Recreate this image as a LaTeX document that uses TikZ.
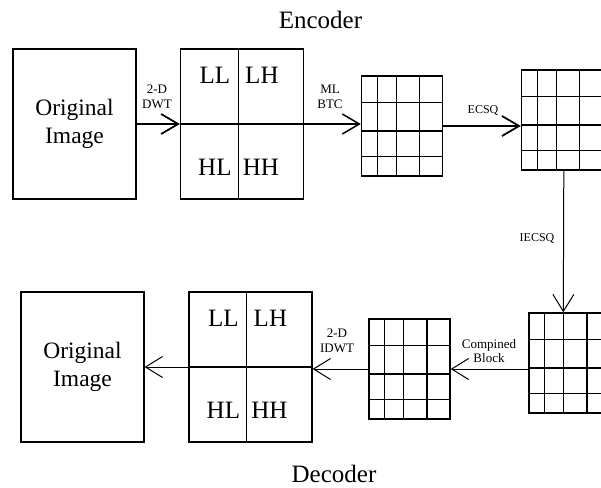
\documentclass[tikz,border=0pt]{standalone}
\usepackage{fontspec}
\setmainfont{Liberation Serif}
\usetikzlibrary{arrows.meta,positioning,calc}

\begin{document}
\begin{tikzpicture}[x=1pt, y=-1pt,
    imgbox/.style={draw, line width=1.2pt, minimum width=123pt, minimum height=150pt, inner sep=0pt, align=center, font=\fontsize{23.5}{28}\selectfont},
    gridbox/.style={draw, line width=1.4pt, minimum width=81pt, minimum height=100pt, inner sep=0pt},
    band/.style={font=\fontsize{25}{30}\selectfont, inner sep=0pt},
    lbl/.style={font=\fontsize{13}{14.5}\selectfont, align=center, inner sep=0pt},
    head/.style={font=\fontsize{25}{30}\selectfont, inner sep=0pt, anchor=base},
    flow/.style={line width=1.8pt, -{Straight Barb[length=17pt, width=20pt]}},
    back/.style={line width=1pt, -{Straight Barb[length=17pt, width=21pt]}},
]
\useasboundingbox (0,0) rectangle (601,487);

% Titles
\node[head] (enctitle) at (320.5,29) {Encoder};
\node[head] (dectitle) at (334,482) {Decoder};

% Encoder row
\node[imgbox] (original) at (74.5,124) {Original\\Image};
\node[imgbox] (subbands) at (242,124) {};
\node[gridbox] (btcblock) at (402,126) {};
\node[gridbox] (ecsqblock) at (562,120) {};

% Decoder row
\node[gridbox] (iecsqblock) at (569.5,363) {};
\node[gridbox] (combined) at (409.5,369) {};
\node[imgbox] (isubbands) at (250.5,367) {};
\node[imgbox] (restored) at (82.5,367) {Original\\Image};

% Sub-band splits
\foreach \q in {subbands, isubbands} {
    \draw[line width=1.2pt] ($(\q.north west)!.47!(\q.north east)$) -- ($(\q.south west)!.47!(\q.south east)$);
    \draw[line width=1.2pt] (\q.west) -- (\q.east);
    \node[band] (\q-ll) at ($(\q.north west)+(35,27)$) {LL};
    \node[band] (\q-lh) at ($(\q.north west)+(82,27)$) {LH};
    \node[band] (\q-hl) at ($(\q.north west)+(35,119)$) {HL};
    \node[band] (\q-hh) at ($(\q.north west)+(81,119)$) {HH};
}

% Block grids
\foreach \g in {btcblock, ecsqblock, iecsqblock, combined} {
    \foreach \f in {0.2, 0.43, 0.71}
        \draw[line width=1.4pt] ($(\g.north west)!\f!(\g.north east)$) -- ($(\g.south west)!\f!(\g.south east)$);
    \foreach \f in {0.27, 0.55, 0.8}
        \draw[line width=1.4pt] ($(\g.north west)!\f!(\g.south west)$) -- ($(\g.north east)!\f!(\g.south east)$);
}

% Encoder connections
\draw[flow] (original.east) -- (subbands.west);
\draw[flow, line width=1.5pt] (subbands.east) -- (subbands.east -| btcblock.west);
\draw[flow] (btcblock.east) -- (btcblock.east -| ecsqblock.west);
\draw[back] ([xshift=43pt]ecsqblock.south west) -- ([xshift=35pt]iecsqblock.north west);

% Decoder connections
\draw[back] (combined.east -| iecsqblock.west) -- (combined.east);
\draw[back] (combined.west) -- (combined.west -| isubbands.east);
\draw[back] (isubbands.west) -- (isubbands.west -| restored.east);

% Step labels
\node[lbl] (dwt) at (157,97) {2-D\\DWT};
\node[lbl] (btc) at (330,97) {ML\\BTC};
\node[lbl, font=\fontsize{12}{14}\selectfont] (ecsq) at (483,110) {ECSQ};
\node[lbl, font=\fontsize{12}{14}\selectfont] (iecsq) at (537,238) {IECSQ};
\node[lbl] (block) at (489,351) {Compined\\Block};
\node[lbl] (idwt) at (337,341) {2-D\\IDWT};

\end{tikzpicture}
\end{document}
